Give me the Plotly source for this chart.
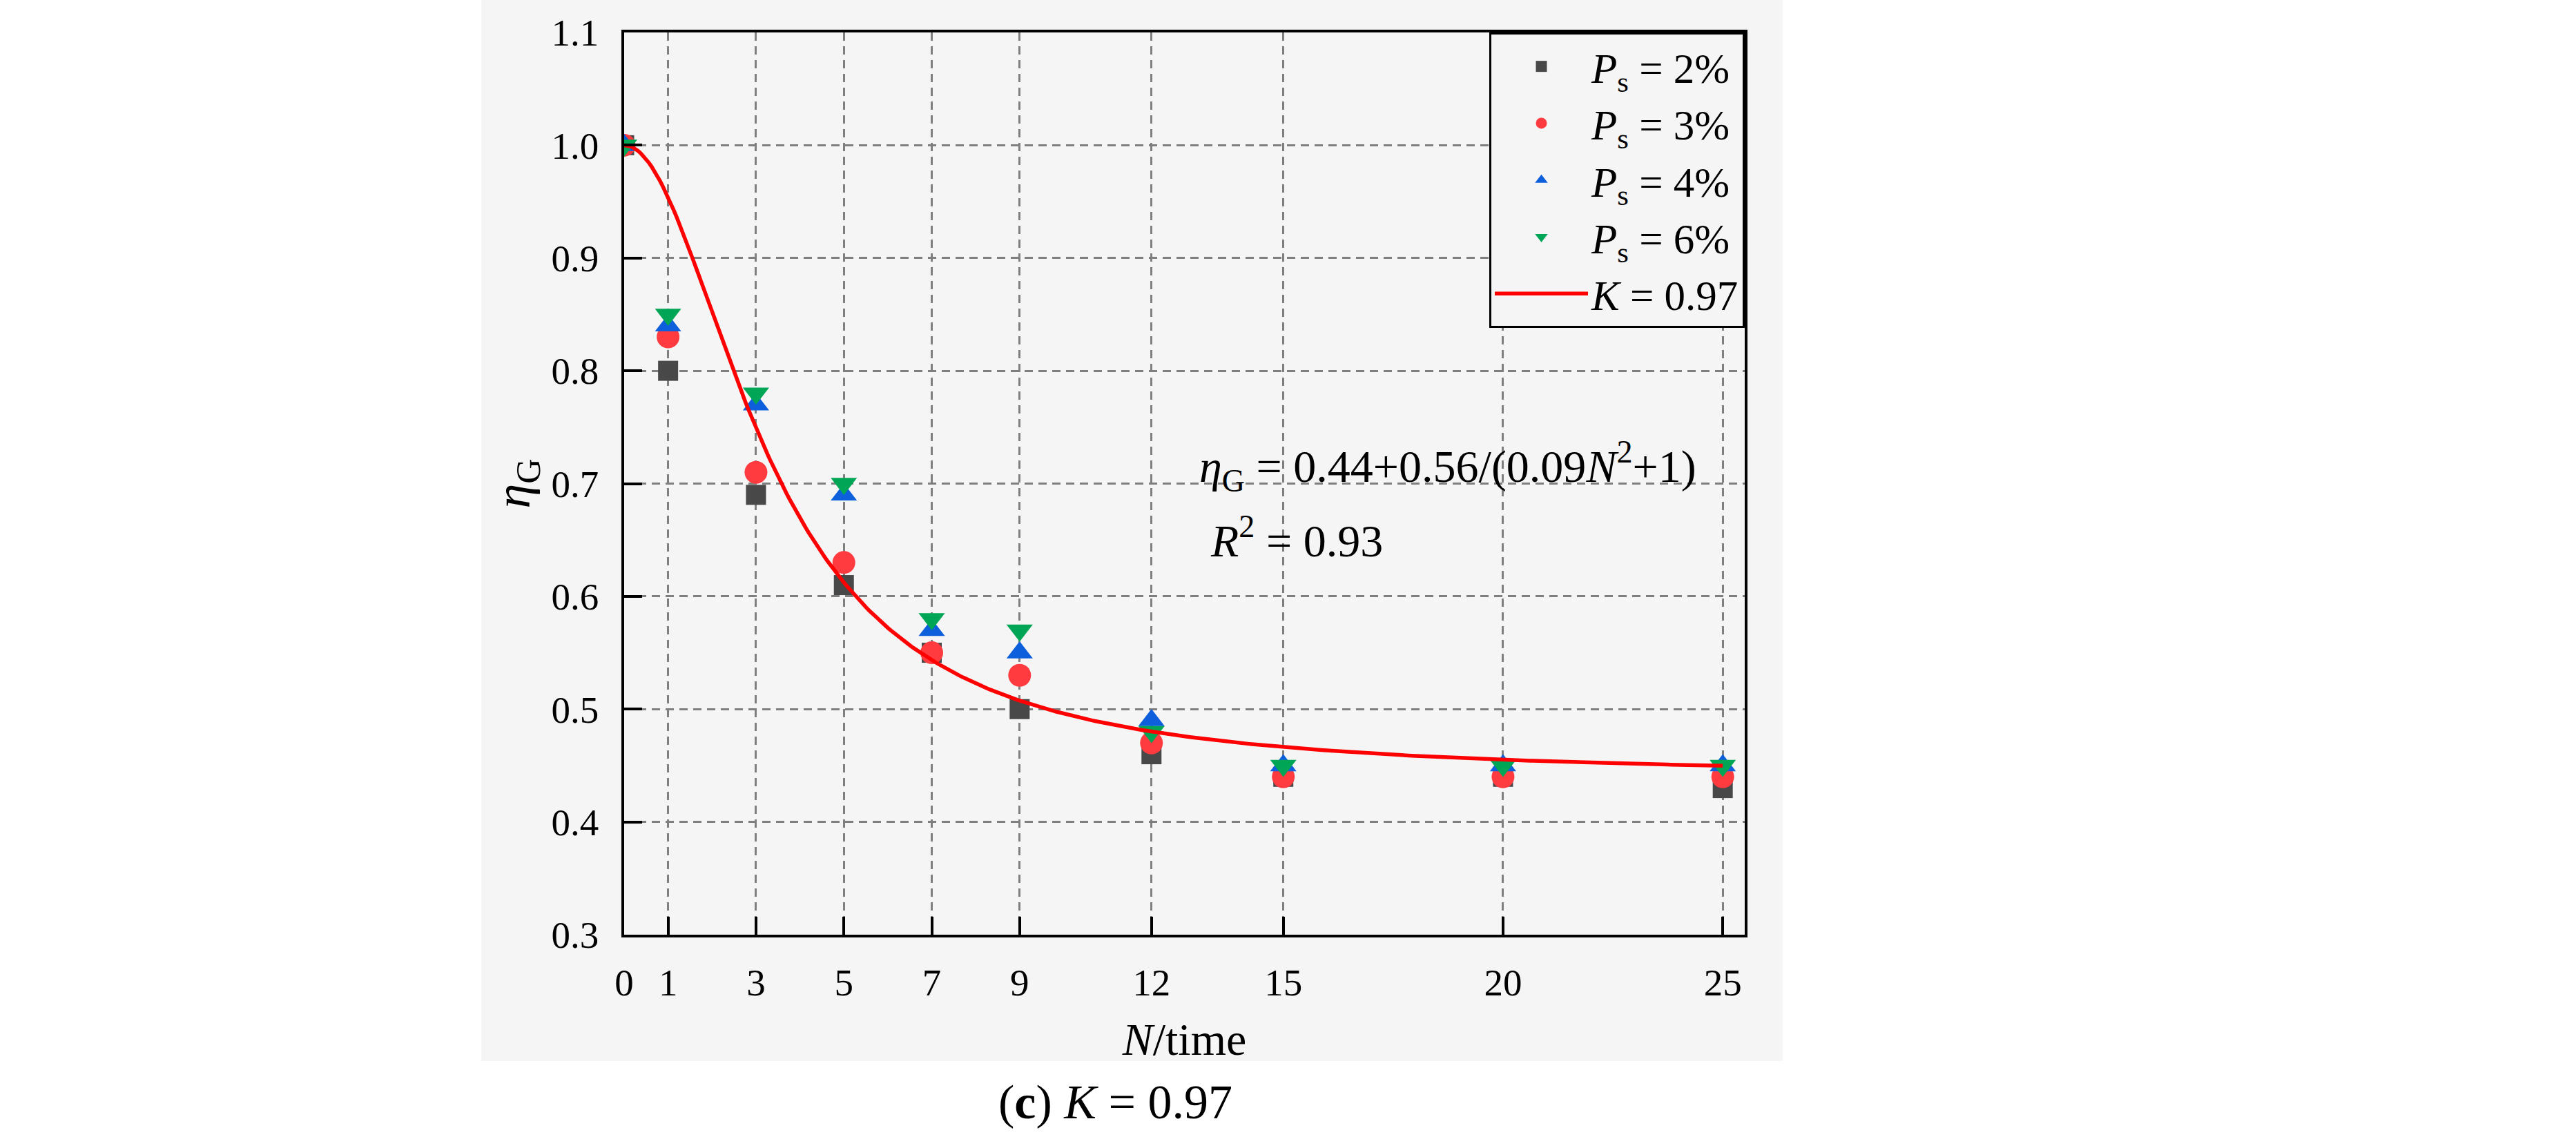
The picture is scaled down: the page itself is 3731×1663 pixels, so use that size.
import numpy as np
import plotly.graph_objects as go

# ---------------- data ----------------
N_cycles = [0, 1, 3, 5, 7, 9, 12, 15, 20, 25]
eta_ps2 = [1.00, 0.80, 0.69, 0.61, 0.55, 0.50, 0.46, 0.44, 0.44, 0.43]
eta_ps3 = [1.00, 0.83, 0.71, 0.63, 0.55, 0.53, 0.47, 0.44, 0.44, 0.44]
eta_ps4 = [1.00, 0.84, 0.77, 0.69, 0.57, 0.55, 0.49, 0.45, 0.45, 0.45]
eta_ps6 = [1.00, 0.85, 0.78, 0.70, 0.58, 0.57, 0.48, 0.45, 0.45, 0.45]
series_names = ["<i>P</i><sub>s</sub> = 2%", "<i>P</i><sub>s</sub> = 3%",
                "<i>P</i><sub>s</sub> = 4%", "<i>P</i><sub>s</sub> = 6%"]
fit_name = "<i>K</i> = 0.97"
# fitted curve parameters shown on the chart: eta = a + b/(c N^2 + 1)
fit_a, fit_b, fit_c = 0.44, 0.56, 0.09
x_ticks = [0, 1, 3, 5, 7, 9, 12, 15, 20, 25]
y_ticks = [0.3, 0.4, 0.5, 0.6, 0.7, 0.8, 0.9, 1.0, 1.1]

FONT = "Liberation Serif"
BG = "#f5f5f5"
W, H = 3731, 1663
L, R, T, B = 904, W - 2527, 47, H - 1354
PW, PH = W - L - R, H - T - B

styles = [
    dict(symbol="square", size=29, color="#484848"),
    dict(symbol="circle", size=33, color="#ff3b3f"),
    dict(symbol="triangle-up", size=33, color="#0d5fdc"),
    dict(symbol="triangle-down", size=33, color="#00a656"),
]

fig = go.Figure()
for name, vals, st in zip(series_names, [eta_ps2, eta_ps3, eta_ps4, eta_ps6], styles):
    fig.add_trace(go.Scatter(
        x=N_cycles, y=vals, mode="markers", name=name,
        marker=dict(symbol=st["symbol"], size=st["size"], color=st["color"],
                    line=dict(width=0)),
    ))

n_fit = np.linspace(0, 25, 400)
eta_fit = fit_a + fit_b / (fit_c * n_fit ** 2 + 1)
fig.add_trace(go.Scatter(x=n_fit, y=eta_fit, mode="lines", name=fit_name,
                         line=dict(color="#ff0000", width=5.5)))

axis_common = dict(
    showline=True, linecolor="black", linewidth=3.5, mirror=True,
    ticks="inside", ticklen=26, tickwidth=3.5, tickcolor="black",
    showgrid=True, gridcolor="#7f7f7f", gridwidth=2.5, griddash="12px,8px",
    zeroline=False,
    tickfont=dict(family=FONT, size=55, color="black"),
)

fig.update_xaxes(range=[0, 25.5], tickmode="array", tickvals=x_ticks,
                 ticklabelstandoff=18,
                 title=dict(text="<i>N</i>/time", font=dict(family=FONT, size=66, color="black"),
                            standoff=30),
                 **axis_common)
fig.update_yaxes(range=[0.3, 1.1], tickmode="array", tickvals=y_ticks,
                 ticktext=[f"{v:.1f}" for v in y_ticks], ticklabelstandoff=22,
                 title=dict(text="<i>η</i><sub>G</sub>", font=dict(family=FONT, size=72, color="black"),
                            standoff=8),
                 **axis_common)

fig.update_layout(
    width=W, height=H,
    margin=dict(l=L, r=R, t=T, b=B, pad=0),
    paper_bgcolor="white", plot_bgcolor="rgba(0,0,0,0)",
    font=dict(family=FONT, color="black"),
    showlegend=True,
    legend=dict(x=1, y=1, xanchor="right", yanchor="top",
                bgcolor=BG, bordercolor="black", borderwidth=3,
                font=dict(family=FONT, size=61, color="black"),
                itemwidth=135, itemsizing="trace", tracegroupgap=0),
    shapes=[dict(type="rect", xref="paper", yref="paper", layer="below",
                 x0=(697 - L) / PW, x1=(2582 - L) / PW,
                 y0=(1354 - 1537) / PH, y1=(1354 - 0) / PH,
                 fillcolor=BG, line=dict(width=0))],
    annotations=[
        dict(xref="x", yref="y", x=13.05, y=0.715, xanchor="left", yanchor="middle",
             showarrow=False,
             text="<i>η</i><sub>G</sub> = 0.44+0.56/(0.09<i>N</i><sup>2</sup>+1)",
             font=dict(family=FONT, size=66, color="black")),
        dict(xref="x", yref="y", x=13.3, y=0.652, xanchor="left", yanchor="middle",
             showarrow=False, text="<i>R</i><sup>2</sup> = 0.93",
             font=dict(family=FONT, size=66, color="black")),
        dict(xref="paper", yref="paper", x=(1615 - L) / PW, y=(1354 - 1597) / PH,
             xanchor="center", yanchor="middle", showarrow=False,
             text="(<b>c</b>) <i>K</i> = 0.97",
             font=dict(family=FONT, size=70, color="black")),
    ],
)

fig.write_html("out.html", config={"displayModeBar": False, "responsive": False})
